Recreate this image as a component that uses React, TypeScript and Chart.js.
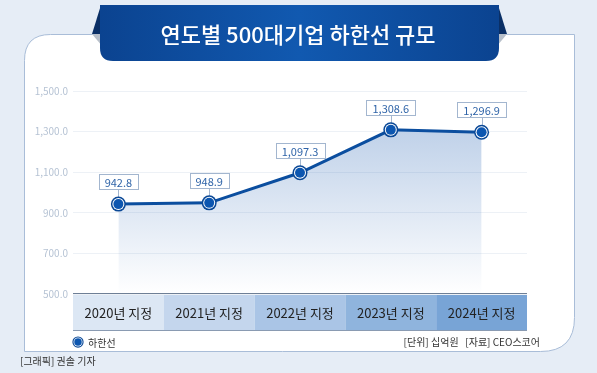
import { useEffect, useRef } from "react";
import { Chart, registerables } from "chart.js";

Chart.register(...registerables);

const title = "연도별 500대기업 하한선 규모";
const categories = ["2020년 지정", "2021년 지정", "2022년 지정", "2023년 지정", "2024년 지정"];
const values = [942.8, 948.9, 1097.3, 1308.6, 1296.9];
const bandColors = ["#dce7f4", "#c4d6ed", "#aac5e6", "#8fb4dd", "#78a4d6"];
const seriesName = "하한선";
const unitNote = "[단위] 십억원   [자료] CEO스코어";
const credit = "[그래픽] 권솔 기자";
const yMin = 500;
const yMax = 1500;
const yStep = 200;

const FONT = "'Noto Sans CJK KR', 'Noto Sans', sans-serif";
const BLUE = "#0b4e9f";

function fmt(v: number, d: number) {
  return v.toLocaleString("en-US", { minimumFractionDigits: d, maximumFractionDigits: d });
}

function panelPath(ctx: CanvasRenderingContext2D, x0: number, y0: number, x1: number, y1: number, r1: number, r2: number) {
  ctx.beginPath();
  ctx.moveTo(x0 + r1, y0);
  ctx.lineTo(x1, y0);
  ctx.lineTo(x1, y1 - r2);
  ctx.quadraticCurveTo(x1, y1, x1 - r2, y1);
  ctx.lineTo(x0, y1);
  ctx.lineTo(x0, y0 + r1);
  ctx.quadraticCurveTo(x0, y0, x0 + r1, y0);
  ctx.closePath();
}

function drawMarker(ctx: CanvasRenderingContext2D, x: number, y: number, s: number) {
  ctx.beginPath();
  ctx.arc(x, y, 7.5 * s, 0, Math.PI * 2);
  ctx.fillStyle = "#0a4896";
  ctx.fill();
  ctx.beginPath();
  ctx.arc(x, y, 6 * s, 0, Math.PI * 2);
  ctx.fillStyle = "#ffffff";
  ctx.fill();
  ctx.beginPath();
  ctx.arc(x, y, 5 * s, 0, Math.PI * 2);
  ctx.fillStyle = "#0c56b0";
  ctx.fill();
}

const backgroundPlugin = {
  id: "bg",
  beforeDraw(chart: any) {
    const ctx: CanvasRenderingContext2D = chart.ctx;
    const W = chart.width;
    const H = chart.height;
    ctx.save();
    ctx.fillStyle = "#e6edf6";
    ctx.fillRect(0, 0, W, H);

    // panel
    panelPath(ctx, 24.5, 34.5, 574.5, 351.5, 26, 34);
    ctx.fillStyle = "#ffffff";
    ctx.fill();
    ctx.strokeStyle = "#a9bdd8";
    ctx.lineWidth = 1;
    ctx.stroke();

    // banner folds
    ctx.fillStyle = "#0a2f66";
    ctx.beginPath();
    ctx.moveTo(101, 5);
    ctx.lineTo(92, 34);
    ctx.lineTo(101, 34);
    ctx.closePath();
    ctx.fill();
    ctx.beginPath();
    ctx.moveTo(498, 5);
    ctx.lineTo(507, 34);
    ctx.lineTo(498, 34);
    ctx.closePath();
    ctx.fill();
    ctx.fillStyle = "#b7bfca";
    ctx.beginPath();
    ctx.moveTo(92, 34);
    ctx.lineTo(102, 34);
    ctx.lineTo(102, 46);
    ctx.closePath();
    ctx.fill();
    ctx.beginPath();
    ctx.moveTo(507, 34);
    ctx.lineTo(497, 34);
    ctx.lineTo(497, 46);
    ctx.closePath();
    ctx.fill();

    // banner body
    const g = ctx.createLinearGradient(100, 0, 499, 0);
    g.addColorStop(0, "#0b4390");
    g.addColorStop(0.5, "#1159b0");
    g.addColorStop(1, "#0b4390");
    ctx.fillStyle = g;
    const bx0 = 100, bx1 = 499, by0 = 5, by1 = 61, br = 13;
    ctx.beginPath();
    ctx.moveTo(bx0, by0);
    ctx.lineTo(bx1, by0);
    ctx.lineTo(bx1, by1 - br);
    ctx.quadraticCurveTo(bx1, by1, bx1 - br, by1);
    ctx.lineTo(bx0 + br, by1);
    ctx.quadraticCurveTo(bx0, by1, bx0, by1 - br);
    ctx.closePath();
    ctx.fill();

    ctx.fillStyle = "#ffffff";
    ctx.font = `500 22px ${FONT}`;
    ctx.textAlign = "center";
    ctx.textBaseline = "middle";
    ctx.fillText(title, 298, 35);

    // category band behind x tick labels
    const xs = chart.scales.x;
    const area = chart.chartArea;
    const n = categories.length;
    const cw = (area.right - area.left) / n;
    for (let i = 0; i < n; i++) {
      const cx = xs.getPixelForValue(i);
      ctx.fillStyle = bandColors[i];
      ctx.fillRect(cx - cw / 2, area.bottom, cw, 37);
    }
    ctx.fillStyle = "#6e7f96";
    ctx.fillRect(area.left, area.bottom - 1, area.right - area.left, 2);
    ctx.fillStyle = "#8a9bb2";
    ctx.fillRect(area.left, area.bottom + 36, area.right - area.left, 1);

    // legend & notes
    drawMarker(ctx, 78, 342, 0.75);
    ctx.fillStyle = "#333333";
    ctx.font = `10px ${FONT}`;
    ctx.textAlign = "left";
    ctx.textBaseline = "middle";
    ctx.fillText(seriesName, 88, 343);
    ctx.textAlign = "right";
    ctx.fillText(unitNote, 540, 342);
    ctx.textAlign = "left";
    ctx.fillText(credit, 20, 361);
    ctx.restore();
  },
};

const labelPlugin = {
  id: "labels",
  afterDatasetsDraw(chart: any) {
    const ctx: CanvasRenderingContext2D = chart.ctx;
    const meta = chart.getDatasetMeta(0);
    ctx.save();
    meta.data.forEach((pt: any, i: number) => {
      const x = pt.x;
      const y = pt.y;
      const text = fmt(values[i], 1);
      ctx.font = `11px ${FONT}`;
      const tw = ctx.measureText(text).width;
      const bw = Math.round(tw + 12);
      const bh = 15;
      const bBottom = y - 15;
      const bx = Math.round(x - bw / 2) + 0.5;
      const by = Math.round(bBottom - bh) + 0.5;
      ctx.strokeStyle = "#a3b6cf";
      ctx.lineWidth = 1;
      ctx.beginPath();
      ctx.moveTo(Math.round(x) + 0.5, by + bh);
      ctx.lineTo(Math.round(x) + 0.5, y);
      ctx.stroke();
      ctx.fillStyle = "#ffffff";
      ctx.fillRect(bx, by, bw, bh);
      ctx.strokeRect(bx, by, bw, bh);
      ctx.fillStyle = "#2f64a8";
      ctx.textAlign = "center";
      ctx.textBaseline = "middle";
      ctx.fillText(text, x, by + bh / 2 + 0.5);
      drawMarker(ctx, x, y, 1);
    });
    ctx.restore();
  },
};

export default function App() {
  const ref = useRef<HTMLCanvasElement | null>(null);
  useEffect(() => {
    document.body.style.margin = "0";
    const canvas = ref.current;
    if (!canvas) return;
    const chart = new Chart(canvas, {
      type: "line",
      data: {
        labels: categories,
        datasets: [
          {
            label: seriesName,
            data: values,
            borderColor: BLUE,
            borderWidth: 3,
            tension: 0,
            pointRadius: 0,
            fill: "start",
            backgroundColor: (c: any) => {
              const a = c.chart.chartArea;
              if (!a) return "rgba(30,90,170,0.2)";
              const g = c.chart.ctx.createLinearGradient(0, a.top + 35, 0, a.bottom);
              g.addColorStop(0, "rgba(40,100,180,0.3)");
              g.addColorStop(1, "rgba(40,100,180,0)");
              return g;
            },
          },
        ],
      },
      options: {
        animation: false,
        responsive: false,
        maintainAspectRatio: false,
        layout: { padding: { left: 28, right: 70, top: 91, bottom: 43 } },
        plugins: { legend: { display: false }, tooltip: { enabled: false } },
        scales: {
          x: {
            offset: true,
            grid: { display: false, drawTicks: false },
            border: { display: false },
            ticks: { padding: 11, color: "#222222", font: { family: FONT, size: 13 } },
            afterFit: (s: any) => {
              s.height = 36;
            },
          },
          y: {
            min: yMin,
            max: yMax,
            ticks: {
              stepSize: yStep,
              padding: 5,
              color: "#b6c3d4",
              font: { family: FONT, size: 10 },
              callback: (v: any) => fmt(Number(v), 1),
            },
            grid: { color: "#edf1f6", drawTicks: false },
            border: { display: false },
            afterFit: (s: any) => {
              s.width = 45;
            },
          },
        },
      },
      plugins: [backgroundPlugin, labelPlugin],
    });
    return () => chart.destroy();
  }, []);
  return (
    <div style={{ position: "absolute", left: 0, top: 0, width: 597, height: 373 }}>
      <canvas ref={ref} width={597} height={373} style={{ display: "block", width: 597, height: 373 }} />
    </div>
  );
}
